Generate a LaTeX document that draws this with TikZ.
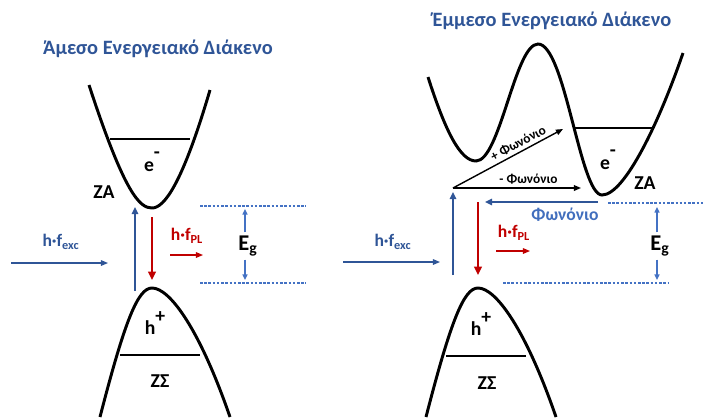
\documentclass[tikz,border=0pt]{standalone}
\usepackage{fontspec}
\setmainfont{Carlito}
\usetikzlibrary{arrows.meta,positioning}
\definecolor{darkblue}{HTML}{2F5597}
\definecolor{midblue}{HTML}{4472C4}
\definecolor{darkred}{HTML}{C00000}

\begin{document}
\begin{tikzpicture}[x=0.025cm, y=-0.025cm,
  band/.style={line width=2.1pt, black},
  level/.style={line width=0.9pt, black},
  title/.style={font=\bfseries\fontsize{14.5}{16}\selectfont, text=darkblue},
  lbl/.style={font=\bfseries\fontsize{14}{16}\selectfont, inner sep=0pt},
  eglbl/.style={font=\bfseries\fontsize{16}{18}\selectfont, inner sep=0pt},
  exclbl/.style={font=\bfseries\fontsize{12.5}{14}\selectfont, text=darkblue, inner sep=0pt},
  pllbl/.style={font=\bfseries\fontsize{12.5}{14}\selectfont, text=darkred, inner sep=0pt},
  phlbl/.style={font=\bfseries\fontsize{9.5}{11}\selectfont, inner sep=1pt},
  gapline/.style={midblue, line width=2pt, dash pattern=on 1.8pt off 1.2pt},
  excarr/.style={-{Triangle[length=5pt,width=4pt]}, darkblue, line width=0.8pt},
  uparr/.style={-{Triangle[length=5pt,width=4.5pt]}, darkblue, line width=1.4pt},
  plarr/.style={-{Triangle[length=6pt,width=5.5pt]}, darkred, line width=2pt},
  smallpl/.style={-{Triangle[length=5pt,width=4pt]}, darkred, line width=0.8pt},
  egarr/.style={-{Triangle[length=4pt,width=3.5pt]}, midblue, line width=1pt},
  phonarr/.style={-{Triangle[length=5pt,width=4pt]}, black, line width=1pt},
  bphon/.style={-{Triangle[length=5pt,width=4.5pt]}, darkblue, line width=1.6pt}
]
  \useasboundingbox (0,0) rectangle (705,417);

  % direct gap
  \node[title] (title1) at (158,49) {Άμεσο Ενεργειακό Διάκενο};

  \draw[band] (89,85) .. controls (125,195) and (140,208) .. (152,208)
    .. controls (164,208) and (182,185) .. (210,90);
  \draw[level] (110,139) -- (190,139);
  \node[lbl] (e1) at (152,162) {e\raisebox{9pt}{-}};
  \node[lbl] (cb1) at (104,192) {ΖΑ};

  \draw[band] (100,417) .. controls (125,320) and (138,288) .. (152,288)
    .. controls (170,288) and (200,330) .. (230,417);
  \draw[level] (120,355) -- (200,355);
  \node[lbl] (h1) at (155,323) {h\raisebox{9pt}{+}};
  \node[lbl] (vb1) at (160,381) {ΖΣ};

  \coordinate (up1s) at (135,291);
  \coordinate (up1e) at (135,207);
  \draw[uparr] (up1s) -- (up1e);
  \coordinate (dn1s) at (152,217);
  \coordinate (dn1e) at (152,280);
  \draw[plarr] (dn1s) -- (dn1e);

  \node[exclbl] (exc1) at (61,242) {h·f\textsubscript{exc}};
  \coordinate (exc1s) at (11,263);
  \coordinate (exc1e) at (108,263);
  \draw[excarr] (exc1s) -- (exc1e);

  \node[pllbl] (pl1) at (187,236) {h·f\textsubscript{PL}};
  \coordinate (pl1s) at (170,255);
  \coordinate (pl1e) at (203,255);
  \draw[smallpl] (pl1s) -- (pl1e);

  \coordinate (gt1a) at (200,206);
  \coordinate (gt1b) at (306,206);
  \coordinate (gb1a) at (200,283);
  \coordinate (gb1b) at (306,283);
  \draw[gapline] (gt1a) -- (gt1b);
  \draw[gapline] (gb1a) -- (gb1b);

  \node[eglbl] (eg1) at (248,246) {E\textsubscript{g}};
  \coordinate (eg1t) at (245,209);
  \coordinate (eg1b) at (245,280);
  \draw[egarr] (eg1.north -| eg1t) ++(0,-3) -- (eg1t);
  \draw[egarr] (eg1.south -| eg1b) ++(0,3) -- (eg1b);

  % indirect gap
  \node[title] (title2) at (552,21) {Έμμεσο Ενεργειακό Διάκενο};

  \draw[band] (428,77) .. controls (445,130) and (460,161) .. (476,161)
    .. controls (500,161) and (515,44) .. (538,44)
    .. controls (565,44) and (580,195) .. (602,195)
    .. controls (625,195) and (660,120) .. (683,53);
  \draw[level] (574,128) -- (652,128);
  \node[lbl] (e2) at (608,160) {e\raisebox{9pt}{-}};
  \node[lbl] (cb2) at (645,183) {ΖΑ};

  \coordinate (ph) at (453,188);
  \coordinate (php) at (563,129);
  \coordinate (phm) at (581,188);
  \draw[phonarr] (ph) -- (php) node[phlbl, pos=0.63, above=1pt, sloped] {+ Φωνόνιο};
  \draw[phonarr] (ph) -- (phm) node[phlbl, pos=0.59, above=1pt] {- Φωνόνιο};

  \draw[band] (426,417) .. controls (451,320) and (464,288) .. (478,288)
    .. controls (496,288) and (526,330) .. (556,417);
  \draw[level] (446,356) -- (526,356);
  \node[lbl] (h2) at (481,324) {h\raisebox{9pt}{+}};
  \node[lbl] (vb2) at (487,383) {ΖΣ};

  \coordinate (up2s) at (453,275);
  \coordinate (up2e) at (453,192);
  \draw[uparr] (up2s) -- (up2e);
  \coordinate (dn2s) at (478,202);
  \coordinate (dn2e) at (478,275);
  \draw[plarr] (dn2s) -- (dn2e);

  \coordinate (bph2s) at (598,202);
  \coordinate (bph2e) at (485,202);
  \draw[bphon] (bph2s) -- (bph2e);
  \node[exclbl, text=midblue!85!darkblue] (phon2) at (565,215) {Φωνόνιο};

  \node[exclbl] (exc2) at (393,242) {h·f\textsubscript{exc}};
  \coordinate (exc2s) at (343,262);
  \coordinate (exc2e) at (440,262);
  \draw[excarr] (exc2s) -- (exc2e);

  \node[pllbl] (pl2) at (514,233) {h·f\textsubscript{PL}};
  \coordinate (pl2s) at (496,251);
  \coordinate (pl2e) at (530,251);
  \draw[smallpl] (pl2s) -- (pl2e);

  \coordinate (gt2a) at (608,203);
  \coordinate (gt2b) at (705,203);
  \coordinate (gb2a) at (503,283);
  \coordinate (gb2b) at (668,283);
  \draw[gapline] (gt2a) -- (gt2b);
  \draw[gapline] (gb2a) -- (gb2b);

  \node[eglbl] (eg2) at (660,246) {E\textsubscript{g}};
  \coordinate (eg2t) at (657,207);
  \coordinate (eg2b) at (657,280);
  \draw[egarr] (eg2.north -| eg2t) ++(0,-3) -- (eg2t);
  \draw[egarr] (eg2.south -| eg2b) ++(0,3) -- (eg2b);
\end{tikzpicture}
\end{document}
